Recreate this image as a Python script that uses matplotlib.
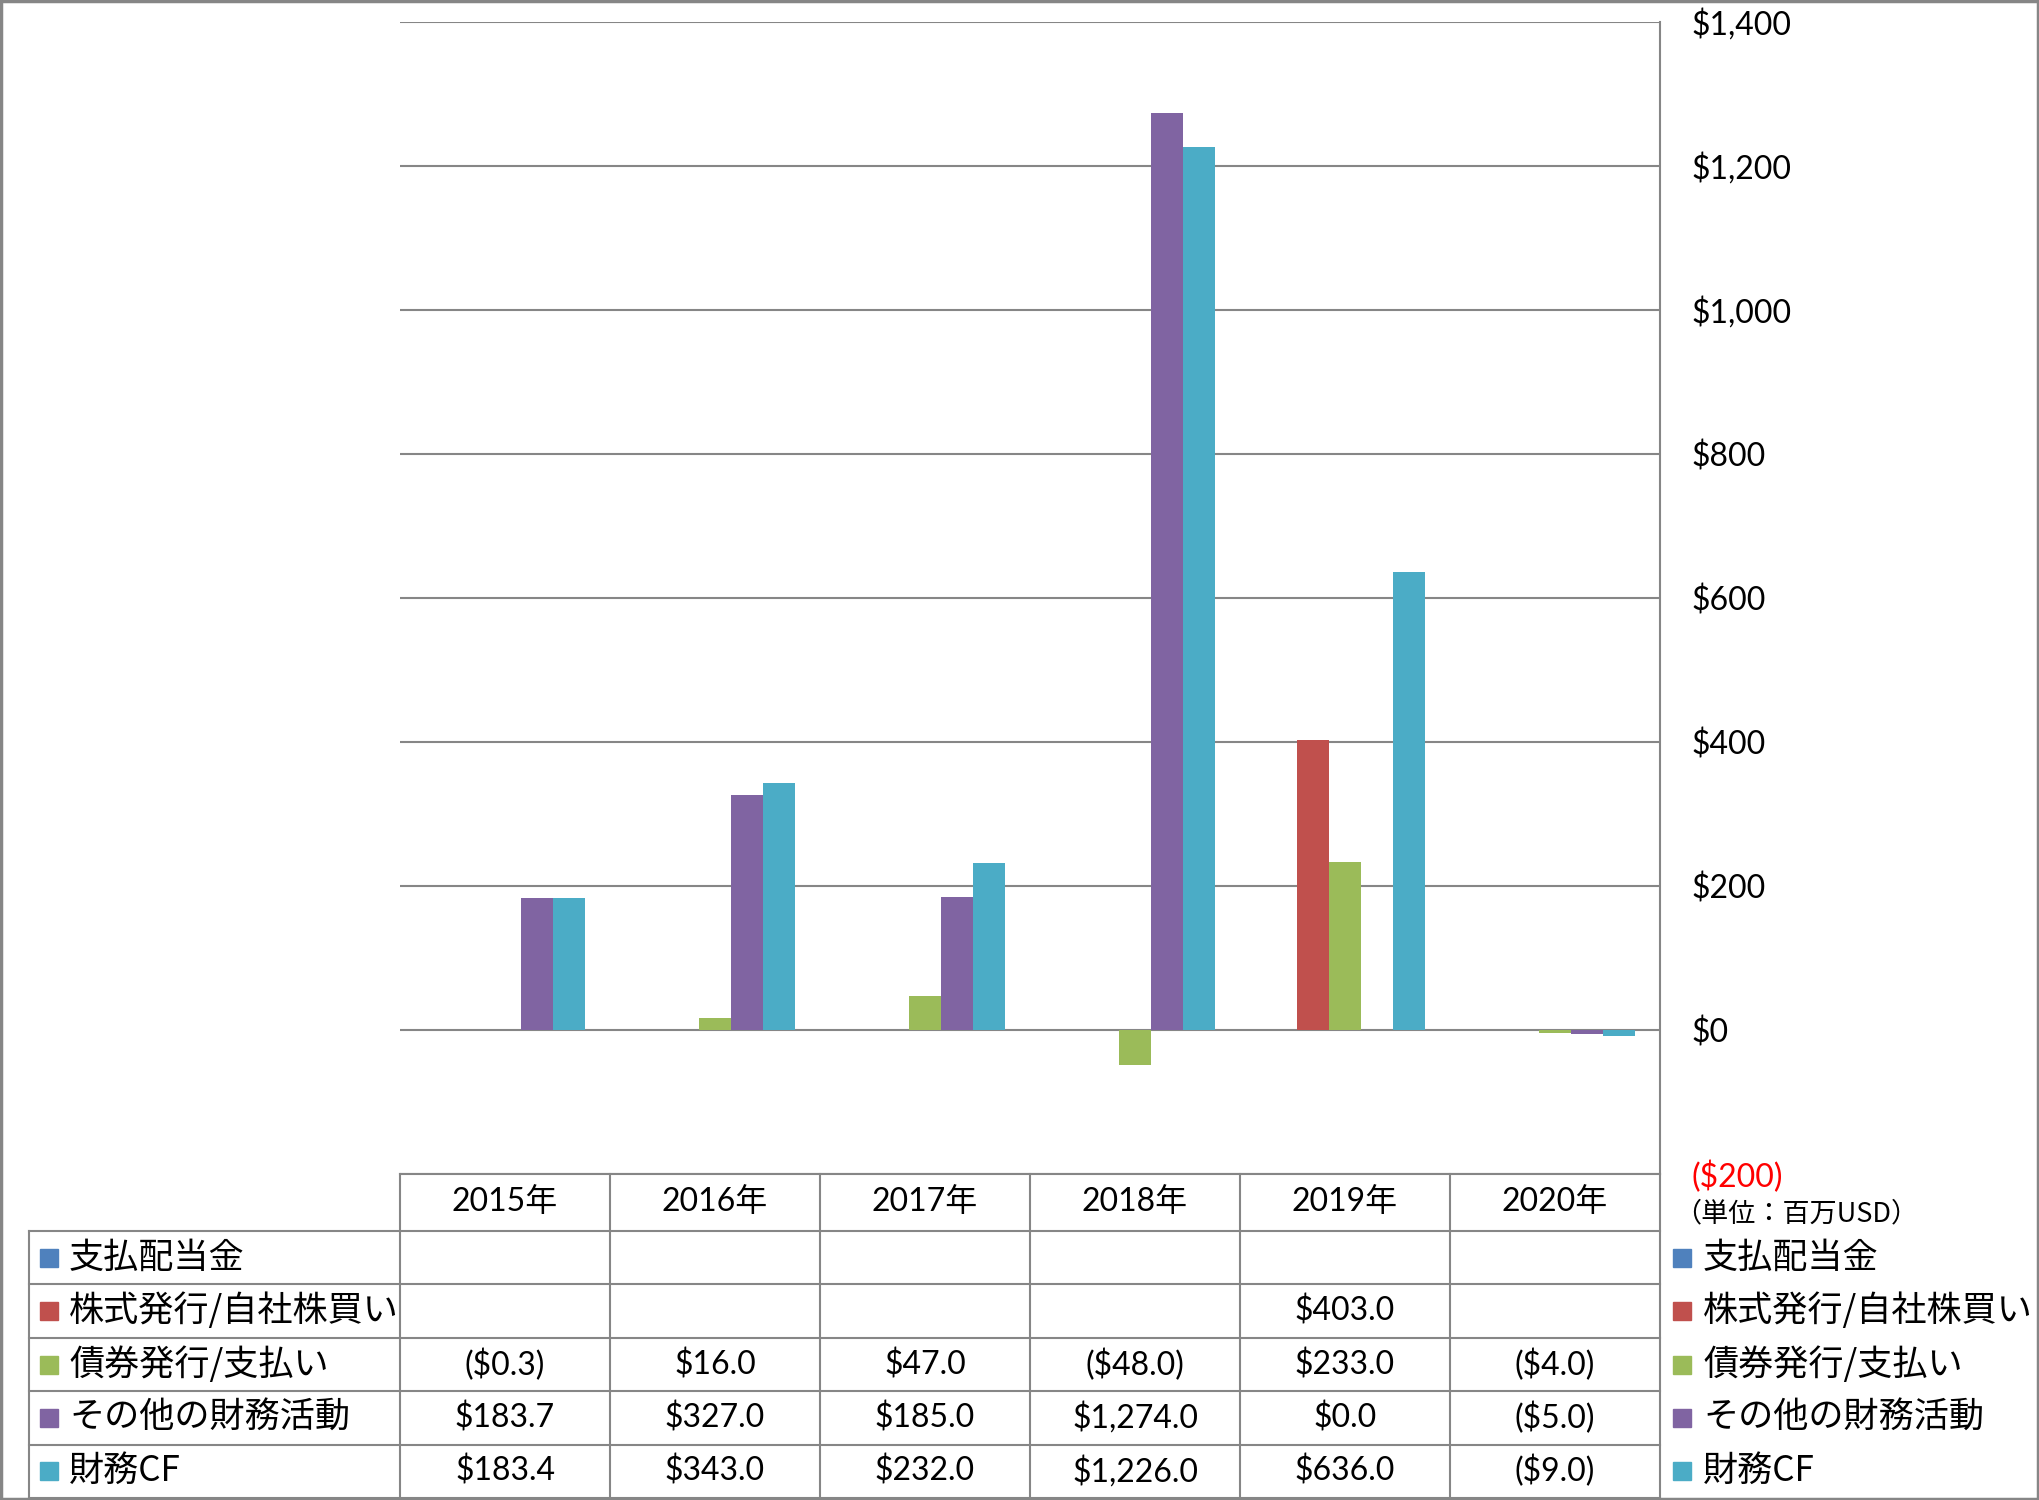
import numpy as np
import matplotlib
matplotlib.use("Agg")
import matplotlib.pyplot as plt
import matplotlib.transforms as mtransforms
from matplotlib.lines import Line2D
from matplotlib.patches import Rectangle

plt.rcParams['font.family'] = ['Lato', 'Noto Sans CJK JP', 'DejaVu Sans']

# data (百万USD)
years = ['2015年', '2016年', '2017年', '2018年', '2019年', '2020年']
series_names = ['支払配当金', '株式発行/自社株買い', '債券発行/支払い', 'その他の財務活動', '財務CF']
dividends = [np.nan, np.nan, np.nan, np.nan, np.nan, np.nan]
equity = [np.nan, np.nan, np.nan, np.nan, 403.0, np.nan]
debt = [-0.3, 16.0, 47.0, -48.0, 233.0, -4.0]
other = [183.7, 327.0, 185.0, 1274.0, 0.0, -5.0]
fin_cf = [183.4, 343.0, 232.0, 1226.0, 636.0, -9.0]
colors = ['#4F81BD', '#C0504D', '#9BBB59', '#8064A2', '#4BACC6']
all_series = [dividends, equity, debt, other, fin_cf]

W, H = 2039, 1500
fig = plt.figure(figsize=(W / 100, H / 100), dpi=100)

def fx(x):
    return x / W

def fy(y):
    return 1 - y / H

# plot area in pixel coords
left, right, top, bottom = 400, 1660, 22, 1174
ax = fig.add_axes([fx(left), fy(bottom), fx(right) - fx(left), fy(top) - fy(bottom)])

x = np.arange(len(years))
bw = 0.152
for i, (vals, c) in enumerate(zip(all_series, colors)):
    ax.bar(x + (i - 2) * bw, vals, width=bw, color=c, zorder=3)

ax.set_xlim(-0.5, len(years) - 0.5)
ax.set_ylim(-200, 1400)
yt = np.arange(-200, 1401, 200)
ax.set_yticks(yt)

def money(v):
    s = f"${abs(v):,.0f}"
    return f"({s})" if v < 0 else s

num_fs = 23
jp_fs = 25.3

ax.yaxis.tick_right()
ax.set_yticklabels([money(v) for v in yt], fontsize=num_fs)
ax.tick_params(axis='y', length=0, pad=23)
ax.tick_params(axis='x', length=0, labelbottom=False)
ax.get_yticklabels()[0].set_color('#FF0000')
ax.yaxis.grid(True, color='#868686', lw=1.5, zorder=1)
for s in ['left', 'top']:
    ax.spines[s].set_visible(False)
ax.spines['bottom'].set_color('#868686')
ax.spines['bottom'].set_linewidth(1.5)
ax.spines['right'].set_color('#868686')
ax.spines['right'].set_linewidth(1.5)

# table below
gray = '#868686'
row_top = 1231
row_h = (1498 - 1231) / 5
tbl_left = 29
blend = mtransforms.blended_transform_factory(ax.transData, fig.transFigure)

for k in range(6):
    yy = row_top + k * row_h
    fig.add_artist(Line2D([fx(tbl_left), fx(right)], [fy(yy), fy(yy)], color=gray, lw=1.5))
fig.add_artist(Line2D([fx(tbl_left), fx(tbl_left)], [fy(row_top), fy(1498)], color=gray, lw=1.5))
for j in range(len(years) + 1):
    fig.add_artist(Line2D([j - 0.5, j - 0.5], [fy(bottom), fy(1498)], color=gray, lw=1.5,
                          transform=blend))

for j, yr in enumerate(years):
    fig.text(j, fy((bottom + row_top) / 2), yr, transform=blend, ha='center', va='center',
             fontsize=num_fs)

for r, (name, vals, c) in enumerate(zip(series_names, all_series, colors)):
    cy = row_top + (r + 0.5) * row_h
    fig.add_artist(Rectangle((fx(40), fy(cy + 9)), 18 / W, 18 / H, color=c))
    fig.text(fx(69), fy(cy), name, ha='left', va='center', fontsize=jp_fs,
             family=['Noto Sans CJK JP'])
    for j, v in enumerate(vals):
        if np.isnan(v):
            continue
        s = f"${abs(v):,.1f}"
        s = f"({s})" if v < 0 else s
        fig.text(j, fy(cy), s, transform=blend, ha='center', va='center', fontsize=num_fs)
    # right side legend
    fig.add_artist(Rectangle((fx(1673), fy(cy + 9)), 18 / W, 18 / H, color=c))
    fig.text(fx(1703), fy(cy), name, ha='left', va='center', fontsize=jp_fs,
             family=['Noto Sans CJK JP'])

fig.text(fx(1674), fy(1214), '（単位：百万USD）', ha='left', va='center', fontsize=19.5,
         family=['Noto Sans CJK JP'])

# outer border
fig.add_artist(Rectangle((0.0005, 0.0007), 0.999, 0.9986, fill=False, edgecolor='#868686', lw=2.5))

fig.savefig('out.png', dpi=100)
